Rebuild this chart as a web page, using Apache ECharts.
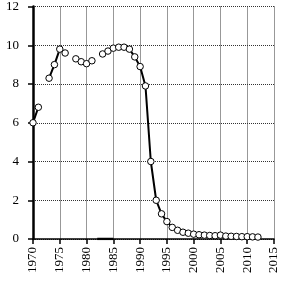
<!DOCTYPE html>
<html><head><meta charset="utf-8">
<script src="https://cdn.jsdelivr.net/npm/echarts@6/dist/echarts.min.js"></script>
<style>html,body{margin:0;padding:0;background:#fff}#c{width:284px;height:287px}</style>
</head><body><div id="c"></div>
<script>
const years = [1970,1971,1972,1973,1974,1975,1976,1977,1978,1979,1980,1981,1982,1983,1984,1985,1986,1987,1988,1989,1990,1991,1992,1993,1994,1995,1996,1997,1998,1999,2000,2001,2002,2003,2004,2005,2006,2007,2008,2009,2010,2011,2012];
const values = [6.0,6.8,null,8.3,9.0,9.8,9.6,null,9.3,9.15,9.05,9.2,null,9.55,9.7,9.85,9.9,9.9,9.8,9.4,8.9,7.9,4.0,2.0,1.3,0.9,0.6,0.45,0.35,0.3,0.25,0.22,0.2,0.18,0.17,0.2,0.15,0.14,0.13,0.12,0.12,0.11,0.1];
const baseYears = [1982,1983,1984,1985];
const baseValues = [0,0,0,0];

const font = '"Liberation Serif", serif';
const chart = echarts.init(document.getElementById('c'));
chart.setOption({
  animation:false,
  grid:{left:33,top:6,right:10,bottom:48},
  xAxis:{type:'value',min:1970,max:2015,interval:5,
    axisLine:{show:true,onZero:false,lineStyle:{color:'#000',width:1.5}},
    axisTick:{show:true,length:5,lineStyle:{color:'#000',width:1.5}},
    axisLabel:{rotate:90,margin:8,color:'#000',fontFamily:font,fontSize:13,formatter:v=>String(v)},
    splitLine:{show:true,lineStyle:{color:'#333',type:'dotted',width:1}}},
  yAxis:{type:'value',min:0,max:12,interval:2,
    axisLine:{show:true,lineStyle:{color:'#000',width:2.5}},
    axisTick:{show:true,length:5,lineStyle:{color:'#000',width:1.5}},
    axisLabel:{margin:14,color:'#000',fontFamily:font,fontSize:13},
    splitLine:{show:true,lineStyle:{color:'#333',type:'dotted',width:1}}},
  series:[
    {type:'line',data:years.map((y,i)=>[y, values[i]===null?'-':values[i]]),
     connectNulls:false,symbol:'circle',symbolSize:6.5,showSymbol:true,
     lineStyle:{color:'#000',width:2},
     itemStyle:{color:'#fff',borderColor:'#000',borderWidth:1}},
    {type:'line',data:baseYears.map((y,i)=>[y,baseValues[i]]),symbol:'none',
     lineStyle:{color:'#000',width:2.5}}
  ]
});
</script></body></html>
